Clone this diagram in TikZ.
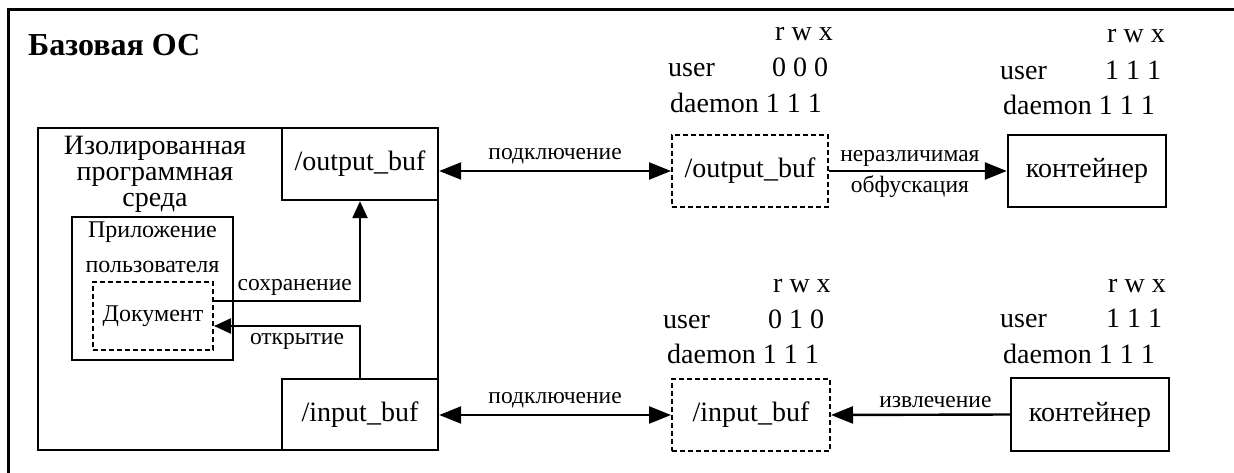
\documentclass[tikz,border=0pt]{standalone}
\usepackage{fontspec}
\setmainfont{Liberation Serif}
\usetikzlibrary{arrows.meta}
\begin{document}
\begin{tikzpicture}[x=1pt,y=-1pt,
  box/.style={draw, line width=2.4pt, inner sep=0pt, font=\fontsize{28}{30}\selectfont},
  dbox/.style={box, line width=2pt, dash pattern=on 5pt off 3pt},
  lbl/.style={font=\fontsize{23.5}{25}\selectfont, inner sep=0pt},
  perm/.style={font=\fontsize{28}{30}\selectfont, inner sep=0pt, anchor=base west},
  bigtip/.tip={Triangle[length=22pt,width=17pt]},
  smalltip/.tip={Triangle[length=17pt,width=15pt]},
  bigarr/.style={line width=2.4pt},
  smallarr/.style={line width=2.4pt, -smalltip}
]
\useasboundingbox (0,0) rectangle (1234,473);
% outer frame (cropped on right and bottom)
\coordinate (ob) at (8,473);
\coordinate (otl) at (8,10);
\coordinate (otr) at (1234,10);
\draw[line width=3pt] (ob) -- (otl) -- (otr);
\node[anchor=west, inner sep=0pt, font=\fontsize{32}{34}\selectfont\bfseries] (title) at (28,45) {Базовая ОС};

% sandbox
\node[box, minimum width=400pt, minimum height=322pt] (sandbox) at (238,289) {};
\node[inner sep=0pt, align=center, font=\fontsize{28}{26}\selectfont] (sblabel) at (155,174) {Изолированная\\программная\\среда};
\node[box, minimum width=156pt, minimum height=72pt] (outbuf) at (360,164) {/output\_buf};
\node[box, minimum width=156pt, minimum height=71pt] (inbuf) at (360,414.5) {/input\_buf};
\node[box, minimum width=161pt, minimum height=143pt] (app) at (152.5,288.5) {};
\node[inner sep=0pt, align=center, font=\fontsize{24}{35}\selectfont] (applabel) at (152.5,247) {Приложение\\пользователя};
\node[dbox, minimum width=120pt, minimum height=68pt, font=\fontsize{24}{26}\selectfont] (doc) at (153,316) {Документ};

\draw[smallarr] ([yshift=15pt]doc.east) -| node[lbl, pos=0.5, anchor=south east, xshift=-7pt, yshift=4pt] {сохранение} (outbuf.south);
\draw[smallarr] (inbuf.north) |- node[lbl, pos=0.75, below=6pt, xshift=10pt] {открытие} ([yshift=-10pt]doc.east);

% middle column
\node[dbox, minimum width=156pt, minimum height=72pt] (mout) at (750,171) {/output\_buf};
\node[dbox, minimum width=158pt, minimum height=72pt] (min) at (751,415) {/input\_buf};
% right column
\node[box, minimum width=158pt, minimum height=72pt] (cout) at (1087,171) {контейнер};
\node[box, minimum width=158pt, minimum height=73pt] (cin) at (1090,414.5) {контейнер};

\draw[bigarr, bigtip-bigtip] (mout.west -| outbuf.east) -- node[lbl, above=6pt] {подключение} (mout.west);
\draw[bigarr, bigtip-bigtip] (min.west -| inbuf.east) -- node[lbl, above=6pt] {подключение} (min.west);
\draw[bigarr, -bigtip] (mout.east) -- node[lbl, above=3pt, xshift=-8pt] {неразличимая} node[lbl, below=3pt, xshift=-8pt] {обфускация} (cout.west);
\draw[bigarr, -bigtip] (cin.west) -- node[lbl, above=6pt, xshift=15pt] {извлечение} (min.east);

% permissions
\node[perm] (p1r) at (775,41) {r w x};
\node[perm] (p1u) at (668,77) {user};
\node[perm] (p1v) at (772,77) {0 0 0};
\node[perm] (p1d) at (670,113) {daemon 1 1 1};

\node[perm] (p2r) at (1107,43) {r w x};
\node[perm] (p2u) at (1000,80) {user};
\node[perm] (p2v) at (1105,80) {1 1 1};
\node[perm] (p2d) at (1003,115) {daemon 1 1 1};

\node[perm] (p3r) at (773,292) {r w x};
\node[perm] (p3u) at (663,328) {user};
\node[perm] (p3v) at (768,328) {0 1 0};
\node[perm] (p3d) at (667,363) {daemon 1 1 1};

\node[perm] (p4r) at (1108,292) {r w x};
\node[perm] (p4u) at (1000,327) {user};
\node[perm] (p4v) at (1106,327) {1 1 1};
\node[perm] (p4d) at (1003,363) {daemon 1 1 1};
\end{tikzpicture}
\end{document}
